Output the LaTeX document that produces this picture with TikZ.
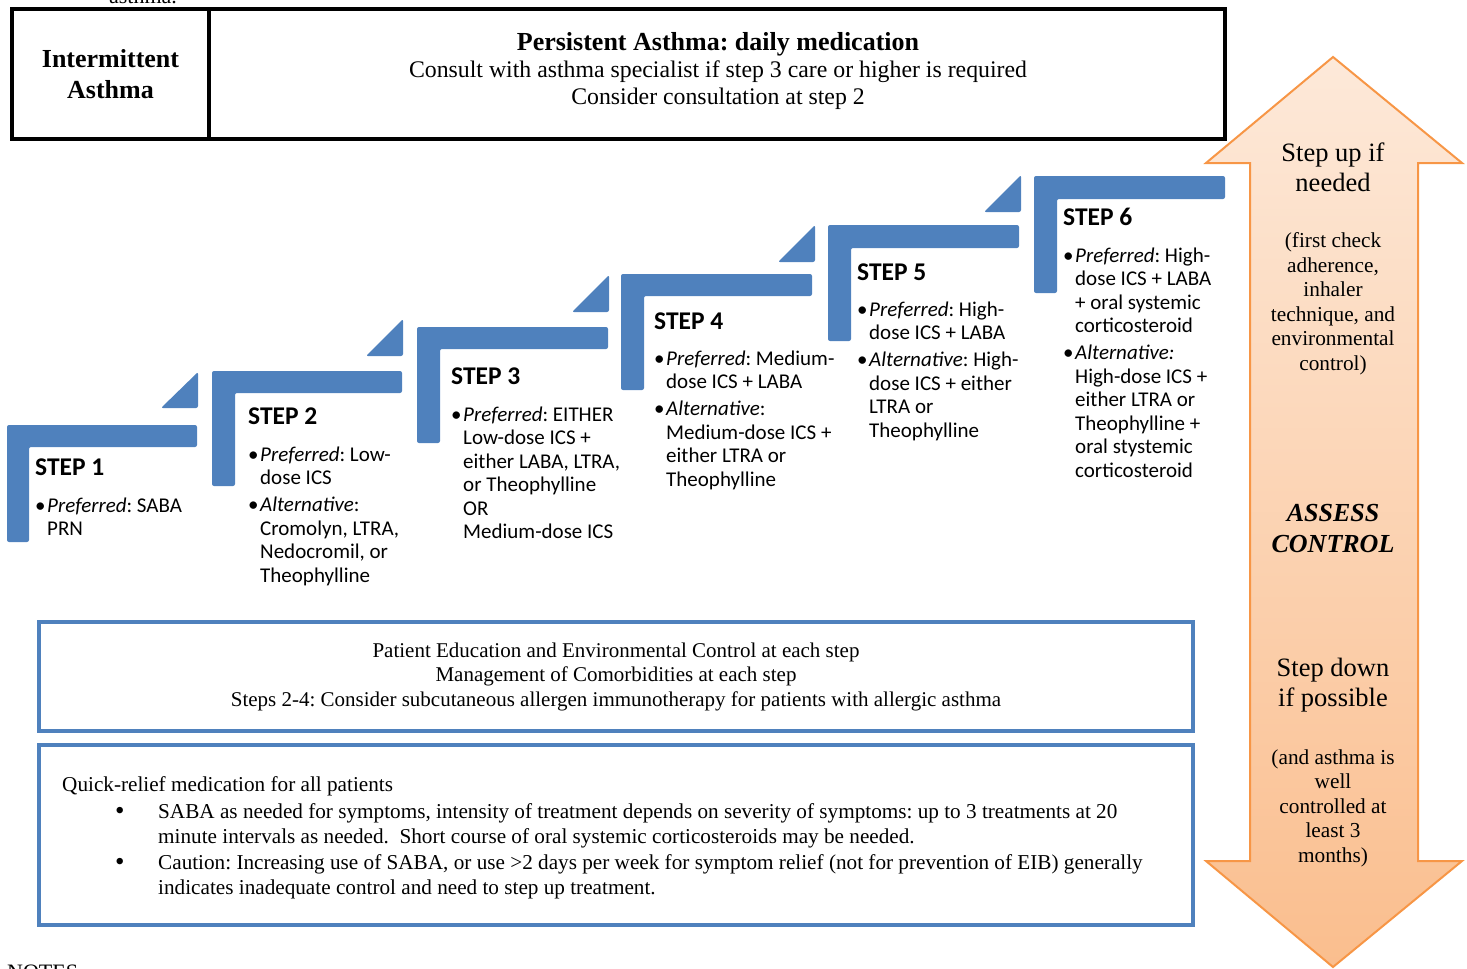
\documentclass[tikz,border=0pt]{standalone}
\usepackage{fontspec}
\setmainfont{Liberation Serif}
\newfontfamily\calfont{Carlito}
\frenchspacing
\definecolor{stepblue}{RGB}{79,129,189}
\definecolor{arrowline}{RGB}{247,150,70}
\definecolor{arrowtop}{RGB}{253,233,217}
\definecolor{arrowbot}{RGB}{250,190,142}
\newcommand\bul{\makebox[12pt][l]{\textbullet}}
\newcommand\qbul{\makebox[43pt][l]{\raisebox{-1pt}{\fontsize{27}{27}\selectfont\textbullet}}}
\tikzset{
  blackbox/.style={draw=black, line width=4pt, inner sep=0pt, align=center},
  bluebox/.style={draw=stepblue, line width=4pt, inner sep=0pt, align=center},
  stepshape/.style={fill=stepblue, rounded corners=2pt},
  steptitle/.style={anchor=west, font=\calfont\bfseries\fontsize{25.5}{30}\selectfont, inner sep=0pt},
  steptext/.style={anchor=base west, font=\calfont\fontsize{21}{23.5}\selectfont, inner sep=0pt},
  arrowtext/.style={align=center, font=\fontsize{21.3}{24.5}\selectfont, inner sep=0pt},
  arrowhead/.style={align=center, font=\fontsize{26.5}{30}\selectfont, inner sep=0pt},
  serifline/.style={anchor=base west, font=\fontsize{21.2}{25}\selectfont, inner sep=0pt},
}
\begin{document}
\begin{tikzpicture}[x=1pt,y=-1pt]
\useasboundingbox (0,0) rectangle (1467,969);
\clip (0,0) rectangle (1467,969);

% page texts cut by the edges, as in the reference
\node[anchor=base, font=\fontsize{22}{26}\selectfont, inner sep=0pt] (pagetop) at (143,3) {asthma.};
\node[anchor=base west, font=\fontsize{22}{26}\selectfont, inner sep=0pt] (pagebot) at (7,979) {NOTES};

% top boxes
\node[blackbox, minimum width=197pt, minimum height=130pt, font=\bfseries\fontsize{26}{31}\selectfont] (inter) at (110.5,74) {Intermittent\\Asthma};
\node[blackbox, minimum width=1016pt, minimum height=130pt] (pers) at (717,74) {};
\node[align=center, inner sep=0pt, font=\fontsize{23.8}{27}\selectfont] (perstext) at (718,71)
  {{\bfseries\fontsize{26}{29}\selectfont Persistent Asthma: daily medication}\\Consult with asthma specialist if step 3 care or higher is required\\Consider consultation at step 2};

% steps
\fill[stepshape] (7,425) -- (197,425) -- (197,447) -- (29,447) -- (29,542) -- (7,542) -- cycle;
\fill[stepshape] (161,408) -- (198,408) -- (198,372) -- cycle;
\fill[stepshape] (212,371) -- (402,371) -- (402,393) -- (235,393) -- (235,486) -- (212,486) -- cycle;
\fill[stepshape] (366,356) -- (403,356) -- (403,319) -- cycle;
\fill[stepshape] (417,327) -- (608,327) -- (608,349) -- (440,349) -- (440,443) -- (417,443) -- cycle;
\fill[stepshape] (572,312) -- (609,312) -- (609,275) -- cycle;
\fill[stepshape] (621,274) -- (812,274) -- (812,296) -- (644,296) -- (644,390) -- (621,390) -- cycle;
\fill[stepshape] (778,262) -- (815,262) -- (815,225) -- cycle;
\fill[stepshape] (828,225) -- (1019,225) -- (1019,248) -- (851,248) -- (851,341) -- (828,341) -- cycle;
\fill[stepshape] (984,212) -- (1021,212) -- (1021,175) -- cycle;
\fill[stepshape] (1034,176) -- (1225,176) -- (1225,199) -- (1057,199) -- (1057,293) -- (1034,293) -- cycle;

\node[steptitle] (s1) at (35,467) {STEP 1};
\node[steptext] (t1) at (35,512) {\begin{tabular}[t]{@{}l@{}l@{}}
\bul & \textit{Preferred}: SABA\\ & PRN\end{tabular}};

\node[steptitle] (s2) at (248,416) {STEP 2};
\node[steptext] (t2) at (248,461) {\begin{tabular}[t]{@{}l@{}l@{}}
\bul & \textit{Preferred}: Low-\\ & dose ICS\\[3.5pt]
\bul & \textit{Alternative}:\\ & Cromolyn, LTRA,\\ & Nedocromil, or\\ & Theophylline\end{tabular}};

\node[steptitle] (s3) at (451,376) {STEP 3};
\node[steptext] (t3) at (451,421) {\begin{tabular}[t]{@{}l@{}l@{}}
\bul & \textit{Preferred}: EITHER\\ & Low-dose ICS +\\ & either LABA, LTRA,\\ & or Theophylline\\ & OR\\ & Medium-dose ICS\end{tabular}};

\node[steptitle] (s4) at (654,321) {STEP 4};
\node[steptext] (t4) at (654,365) {\begin{tabular}[t]{@{}l@{}l@{}}
\bul & \textit{Preferred}: Medium-\\ & dose ICS + LABA\\[3.5pt]
\bul & \textit{Alternative}:\\ & Medium-dose ICS +\\ & either LTRA or\\ & Theophylline\end{tabular}};

\node[steptitle] (s5) at (857,272) {STEP 5};
\node[steptext] (t5) at (857,316) {\begin{tabular}[t]{@{}l@{}l@{}}
\bul & \textit{Preferred}: High-\\ & dose ICS + LABA\\[3.5pt]
\bul & \textit{Alternative}: High-\\ & dose ICS + either\\ & LTRA or\\ & Theophylline\end{tabular}};

\node[steptitle] (s6) at (1063,217) {STEP 6};
\node[steptext] (t6) at (1063,262) {\begin{tabular}[t]{@{}l@{}l@{}}
\bul & \textit{Preferred}: High-\\ & dose ICS + LABA\\ & + oral systemic\\ & corticosteroid\\[3.5pt]
\bul & \textit{Alternative:}\\ & High-dose ICS +\\ & either LTRA or\\ & Theophylline +\\ & oral stystemic\\ & corticosteroid\end{tabular}};

% bottom boxes
\node[bluebox, minimum width=1154pt, minimum height=109pt, font=\fontsize{21}{24.5}\selectfont] (edu) at (616,676.5)
  {Patient Education and Environmental Control at each step\\Management of Comorbidities at each step\\Steps 2-4: Consider subcutaneous allergen immunotherapy for patients with allergic asthma};
\node[bluebox, minimum width=1154pt, minimum height=180pt] (quick) at (616,835) {};
\node[serifline] (q0) at (62,791) {Quick-relief medication for all patients};
\node[serifline] (q1) at (115,818) {\begin{tabular}[t]{@{}l@{}l@{}}
\qbul & SABA as needed for symptoms, intensity of treatment depends on severity of symptoms: up to 3 treatments at 20\\
 & minute intervals as needed.\ \ Short course of oral systemic corticosteroids may be needed.\\[1pt]
\qbul & Caution: Increasing use of SABA, or use >2 days per week for symptom relief (not for prevention of EIB) generally\\
 & indicates inadequate control and need to step up treatment.\end{tabular}};

% double arrow
\shade[top color=arrowtop, bottom color=arrowbot, draw=arrowline, line width=2pt, line join=miter]
  (1333,57) -- (1462,163) -- (1418,163) -- (1418,861) -- (1462,861) -- (1333,967)
  -- (1206,861) -- (1250,861) -- (1250,163) -- (1206,163) -- cycle;
\node[arrowhead] (up) at (1333,167) {Step up if\\needed};
\node[arrowtext] (upnote) at (1333,304) {(first check\\adherence,\\inhaler\\technique, and\\environmental\\control)};
\node[align=center, inner sep=0pt, font=\bfseries\itshape\fontsize{26}{31}\selectfont] (assess) at (1333,529) {ASSESS\\CONTROL};
\node[arrowhead] (down) at (1333,685) {Step down\\if possible};
\node[arrowtext] (downnote) at (1333,808) {(and asthma is\\well\\controlled at\\least 3\\months)};
\end{tikzpicture}
\end{document}
